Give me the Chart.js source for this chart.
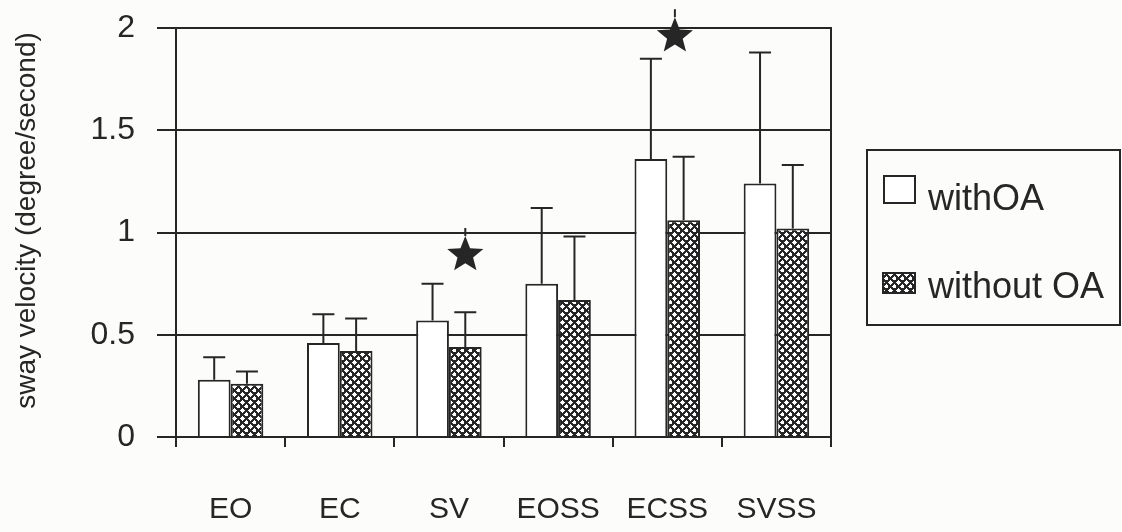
<!DOCTYPE html>
<html>
<head>
<meta charset="utf-8">
<script src="https://cdn.jsdelivr.net/npm/chart.js@4.4.1/dist/chart.umd.min.js"></script>
<style>
  html, body { margin: 0; padding: 0; background: #fcfcfa; }
  #wrap { width: 1122px; height: 532px; position: relative; }
</style>
</head>
<body>
<div id="wrap"><canvas id="c" width="1122" height="532"></canvas></div>
<script>
// Sway velocity per condition (mean and SD, degree/second)
const categories   = ['EO', 'EC', 'SV', 'EOSS', 'ECSS', 'SVSS'];
const seriesLabels = ['withOA', 'without OA'];
const withOA       = [0.28, 0.46, 0.57, 0.75, 1.36, 1.24];
const withOA_sd    = [0.11, 0.14, 0.18, 0.37, 0.49, 0.64];
const withoutOA    = [0.26, 0.42, 0.44, 0.67, 1.06, 1.02];
const withoutOA_sd = [0.06, 0.16, 0.17, 0.31, 0.31, 0.31];
const yTicks       = [0, 0.5, 1, 1.5, 2];
const yTitle       = 'sway velocity (degree/second)';
// Significance stars: category, height, shift right of category centre (fraction of category width)
const sigCategories = ['SV', 'ECSS'];
const sigValues     = [0.89, 1.96];
const sigShift      = [0.15, 0.07];

const INK = '#262626';
const FONT = "'Liberation Sans', Arial, sans-serif";

function makeHatch() {
  const c = document.createElement('canvas');
  c.width = 8; c.height = 8;
  const g = c.getContext('2d');
  g.fillStyle = INK;
  g.fillRect(0, 0, 8, 8);
  g.fillStyle = '#ffffff';
  [[2, 2], [6, 6]].forEach(([x, y]) => {
    g.fillRect(x - 1, y - 1, 3, 3);
    g.fillRect(x - 2, y, 5, 1);
    g.fillRect(x, y - 2, 1, 5);
  });
  return g.createPattern(c, 'repeat');
}
const hatch = makeHatch();

// Upward-only error bars with caps
const errorBars = {
  id: 'errorBars',
  afterDatasetsDraw(chart) {
    const ctx = chart.ctx, y = chart.scales.y;
    chart.data.datasets.forEach((ds, di) => {
      const meta = chart.getDatasetMeta(di);
      meta.data.forEach((bar, i) => {
        const top = y.getPixelForValue(ds.data[i] + ds.sd[i]);
        ctx.save();
        ctx.strokeStyle = INK;
        ctx.lineWidth = 2;
        ctx.beginPath();
        ctx.moveTo(bar.x, bar.y);
        ctx.lineTo(bar.x, top);
        ctx.moveTo(bar.x - 11, top);
        ctx.lineTo(bar.x + 11, top);
        ctx.stroke();
        ctx.restore();
      });
    });
  }
};

// Filled five-pointed stars marking significant differences
const sigStars = {
  id: 'sigStars',
  afterDatasetsDraw(chart) {
    const ctx = chart.ctx, x = chart.scales.x, y = chart.scales.y;
    const catW = (x.right - x.left) / categories.length;
    sigCategories.forEach((cat, k) => {
      const idx = categories.indexOf(cat);
      const cx = x.getPixelForValue(idx) + sigShift[k] * catW;
      const cy = y.getPixelForValue(sigValues[k]);
      const R = 19, r = 8.2;
      ctx.save();
      ctx.fillStyle = INK;
      ctx.beginPath();
      for (let n = 0; n < 10; n++) {
        const rad = n % 2 ? r : R;
        const a = -Math.PI / 2 + n * Math.PI / 5;
        ctx.lineTo(cx + rad * Math.cos(a), cy + rad * Math.sin(a));
      }
      ctx.closePath();
      ctx.fill();
      ctx.strokeStyle = INK;
      ctx.lineWidth = 2;
      ctx.beginPath();
      ctx.moveTo(cx, cy - R);
      ctx.lineTo(cx, cy - R - 8);
      ctx.stroke();
      ctx.restore();
    });
  }
};

// Right frame line, rotated axis title and boxed legend
const frameAndLegend = {
  id: 'frameAndLegend',
  afterDraw(chart) {
    const ctx = chart.ctx, a = chart.chartArea;
    ctx.save();
    ctx.strokeStyle = INK;
    ctx.lineWidth = 2;
    ctx.beginPath();
    ctx.moveTo(a.right, a.top - 1);
    ctx.lineTo(a.right, a.bottom);
    ctx.stroke();

    // y-axis title
    ctx.save();
    ctx.translate(27, (a.top + a.bottom) / 2 - 12);
    ctx.rotate(-Math.PI / 2);
    ctx.fillStyle = INK;
    ctx.font = '28px ' + FONT;
    ctx.textAlign = 'center';
    ctx.textBaseline = 'middle';
    ctx.fillText(yTitle, 0, 0);
    ctx.restore();

    const bx = a.right + 36, by = 150, bw = 253, bh = 175;
    ctx.strokeRect(bx, by, bw, bh);

    const ds = chart.data.datasets;
    // withOA swatch
    ctx.fillStyle = '#ffffff';
    ctx.fillRect(bx + 17, by + 26, 31, 27);
    ctx.strokeRect(bx + 17, by + 26, 31, 27);
    // without OA swatch
    ctx.fillStyle = hatch;
    ctx.fillRect(bx + 16, by + 123, 32, 20);
    ctx.strokeRect(bx + 16, by + 123, 32, 20);

    ctx.fillStyle = INK;
    ctx.font = '36px ' + FONT;
    ctx.textBaseline = 'alphabetic';
    ctx.textAlign = 'left';
    ctx.fillText(ds[0].label, bx + 61, by + 60);
    ctx.fillText(ds[1].label, bx + 61, by + 148);
    ctx.restore();
  }
};

new Chart(document.getElementById('c'), {
  type: 'bar',
  data: {
    labels: categories,
    datasets: [
      {
        label: seriesLabels[0],
        data: withOA,
        sd: withOA_sd,
        backgroundColor: '#ffffff',
        borderColor: INK,
        borderWidth: 2,
        categoryPercentage: 0.6,
        barPercentage: 1.0
      },
      {
        label: seriesLabels[1],
        data: withoutOA,
        sd: withoutOA_sd,
        backgroundColor: hatch,
        borderColor: INK,
        borderWidth: 2,
        categoryPercentage: 0.6,
        barPercentage: 1.0
      }
    ]
  },
  options: {
    responsive: false,
    animation: false,
    devicePixelRatio: 1,
    layout: { padding: { top: 28, right: 291, left: 0, bottom: 0 } },
    plugins: {
      legend: { display: false },
      tooltip: { enabled: false }
    },
    scales: {
      x: {
        grid: {
          offset: true,
          drawOnChartArea: false,
          drawTicks: true,
          tickLength: 10,
          color: INK,
          lineWidth: 2
        },
        border: { display: true, color: INK, width: 2 },
        ticks: {
          color: INK,
          font: { family: FONT, size: 30 },
          padding: 45,
          maxRotation: 0
        },
        afterFit(scale) { scale.height = 95; scale.paddingLeft = 0; scale.paddingRight = 0; }
      },
      y: {
        min: 0,
        max: 2,
        afterBuildTicks(scale) { scale.ticks = yTicks.map(v => ({ value: v })); },
        grid: {
          color: INK,
          lineWidth: 2,
          drawTicks: true,
          tickLength: 19
        },
        border: { display: true, color: INK, width: 2 },
        ticks: {
          color: INK,
          font: { family: FONT, size: 32 },
          padding: 22,
          callback: v => String(v)
        },
        afterFit(scale) { scale.width = 176; scale.paddingTop = 0; scale.paddingBottom = 0; }
      }
    }
  },
  plugins: [errorBars, sigStars, frameAndLegend]
});
</script>
</body>
</html>
